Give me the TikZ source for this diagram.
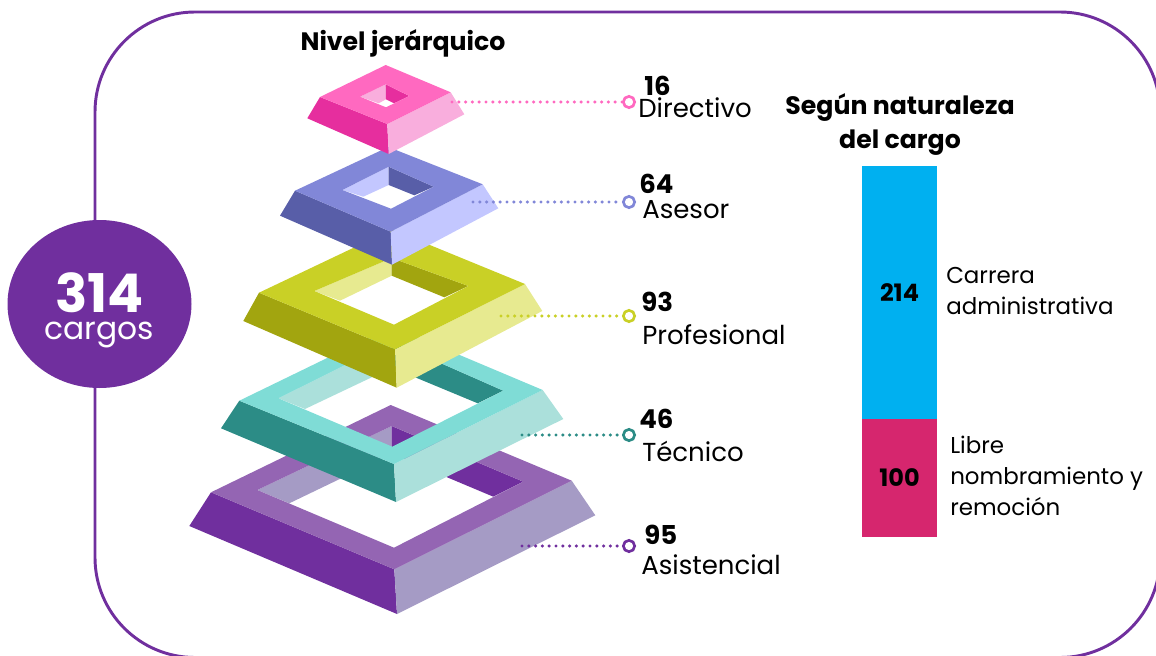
\documentclass[tikz,border=0pt]{standalone}
\usepackage{fontspec}
\setmainfont{Poppins}
\usetikzlibrary{shapes.geometric}
\definecolor{moradoA}{HTML}{702F9E}
\definecolor{moradoB}{HTML}{9465B3}
\definecolor{moradoC}{HTML}{A59BC5}
\definecolor{tealA}{HTML}{2C8C86}
\definecolor{tealB}{HTML}{7FDCD6}
\definecolor{tealC}{HTML}{ABE0DB}
\definecolor{verdeA}{HTML}{A2A50F}
\definecolor{verdeB}{HTML}{C9D026}
\definecolor{verdeC}{HTML}{E7EA90}
\definecolor{azulA}{HTML}{585EA8}
\definecolor{azulB}{HTML}{8187D8}
\definecolor{azulC}{HTML}{C3C7FF}
\definecolor{rosaA}{HTML}{E62E9E}
\definecolor{rosaB}{HTML}{FF69C0}
\definecolor{rosaC}{HTML}{F9AEDD}
\definecolor{barraAzul}{HTML}{00B0F0}
\definecolor{barraRoja}{HTML}{D6266E}
\tikzset{
  numero/.style={anchor=base west,font=\fontsize{19.5}{20}\selectfont\bfseries,inner sep=0pt},
  etiqueta/.style={anchor=base west,font=\fontsize{19.5}{20}\selectfont,inner sep=0pt},
  titulo/.style={align=center,font=\fontsize{18.9}{25.5}\selectfont\bfseries,inner sep=0pt},
  punto/.style={circle,draw=#1,fill=white,line width=2pt,minimum size=8.5pt,inner sep=0pt},
  enlace/.style={draw=#1,line width=2.6pt,line cap=round,dash pattern=on 0pt off 5.1pt},
  barra/.style={fill=#1,minimum width=56.25pt,inner sep=0pt,font=\fontsize{18}{18}\selectfont\bfseries},
  nota/.style={anchor=west,align=left,font=\fontsize{17.2}{23.5}\selectfont,inner sep=0pt}
}
\begin{document}
\begin{tikzpicture}[x=0.75pt,y=-0.75pt]
\clip (0,0) rectangle (1156,656);
\draw[moradoA,line width=2.2pt,rounded corners=75pt] (95,12) rectangle (1160,657.5);
\node (total) [ellipse,fill=moradoA,minimum width=138pt,minimum height=126pt,inner sep=0pt] at (99.5,304) {};
\node (totalTxt) [text=white,align=center,inner sep=0pt] at (99.5,310.5) {{\fontsize{40}{40}\selectfont\bfseries 314}\\[5.75pt]{\fontsize{23.5}{21}\selectfont cargos}};
\fill[moradoA] (211,492.3)--(394.3,569.3)--(397,614)--(189.3,526)--cycle;
\fill[moradoC] (571.7,480.7)--(394.3,569.3)--(397,614)--(595.3,515.3)--cycle;
\fill[moradoC] (257.3,490)--(391.7,426)--(391.7,454)--(289.3,503.3)--cycle;
\fill[moradoA] (391.7,426)--(523.3,481.7)--(493.3,496.7)--(391.7,454)--cycle;
\fill[moradoB,even odd rule] (390.7,405)--(571.7,480.7)--(394.3,569.3)--(211,492.3)--cycle (391.7,426)--(523.3,481.7)--(394,547.7)--(257.3,490)--cycle;
\fill[tealA] (239.3,400.7)--(394,464)--(396,502)--(221,428.3)--cycle;
\fill[tealC] (542.7,390)--(394,464)--(396,502)--(563.3,419)--cycle;
\fill[tealC] (278.3,398.3)--(392,341.7)--(392,367.7)--(305,409)--cycle;
\fill[tealA] (392,341.7)--(503.3,390.7)--(477.7,403.3)--(392,367.7)--cycle;
\fill[tealB,even odd rule] (392,326.5)--(542.7,390)--(394,464)--(239.3,400.7)--cycle (392,341.7)--(503.3,390.7)--(392.3,446.7)--(278.3,398.3)--cycle;
\fill[verdeA] (259,292.7)--(395,349.3)--(396.7,387.7)--(243.3,321)--cycle;
\fill[verdeC] (525,284)--(395,349.3)--(396.7,387.7)--(542.3,311)--cycle;
\fill[verdeC] (314.3,291)--(391.7,258)--(391.7,275.7)--(340,300.7)--cycle;
\fill[verdeA] (391.7,258)--(468.3,286)--(444.3,297.3)--(391.7,275.7)--cycle;
\fill[verdeB,even odd rule] (392,229.5)--(525,284)--(395,349.3)--(259,292.7)--cycle (391.7,258)--(468.3,286)--(394,324.7)--(314.3,291)--cycle;
\fill[azulA] (295,190.7)--(390.7,231.7)--(392,264.7)--(280,215.7)--cycle;
\fill[azulC] (482.7,184.3)--(390.7,231.7)--(392,264.7)--(498.3,208.3)--cycle;
\fill[azulC] (342.3,190)--(388.7,166.7)--(388.7,185)--(363.3,196.7)--cycle;
\fill[azulA] (388.7,166.7)--(433.7,186.7)--(414.3,195.3)--(388.7,185)--cycle;
\fill[azulB,even odd rule] (388.3,147)--(482.7,184.3)--(390.7,231.7)--(295,190.7)--cycle (388.7,166.7)--(433.7,186.7)--(391,208.7)--(342.3,190)--cycle;
\fill[rosaA] (320,97)--(387.3,124)--(388.7,154)--(307.3,118.3)--cycle;
\fill[rosaC] (450.7,92.3)--(387.3,124)--(388.7,154)--(464.3,114.3)--cycle;
\fill[rosaC] (360,96.7)--(385.7,84.3)--(386,99.3)--(378.7,103.3)--cycle;
\fill[rosaA] (385.7,84.3)--(409.3,96)--(394,103.3)--(386,99.3)--cycle;
\fill[rosaB,even odd rule] (385.7,65)--(450.7,92.3)--(387.3,124)--(320,97)--cycle (385.7,84.3)--(409.3,96)--(386,107.3)--(360,96.7)--cycle;
\coordinate (iniDirectivo) at (452,102);
\coordinate (iniAsesor) at (473,202);
\coordinate (iniProfesional) at (501,316);
\coordinate (iniTecnico) at (522,435);
\coordinate (iniAsistencial) at (522,546);
\node (ptoDirectivo) [punto=rosaB] at (629,102) {};
\node (ptoAsesor) [punto=azulB] at (629,202) {};
\node (ptoProfesional) [punto=verdeB] at (629,316) {};
\node (ptoTecnico) [punto=tealA] at (629,435) {};
\node (ptoAsistencial) [punto=moradoA] at (629,546) {};
\draw[enlace=rosaB] (iniDirectivo)--(ptoDirectivo);
\draw[enlace=azulB] (iniAsesor)--(ptoAsesor);
\draw[enlace=verdeB] (iniProfesional)--(ptoProfesional);
\draw[enlace=tealA] (iniTecnico)--(ptoTecnico);
\draw[enlace=moradoA] (iniAsistencial)--(ptoAsistencial);
\node (numDirectivo) [numero] at (644,96) {16};
\node (txtDirectivo) [etiqueta] at (638,117.7) {Directivo};
\node (numAsesor) [numero] at (639,194) {64};
\node (txtAsesor) [etiqueta] at (642,218) {Asesor};
\node (numProfesional) [numero] at (641,311.5) {93};
\node (txtProfesional) [etiqueta] at (642,344) {Profesional};
\node (numTecnico) [numero] at (639,428.5) {46};
\node (txtTecnico) [etiqueta] at (642,461) {Técnico};
\node (numAsistencial) [numero] at (644,544.5) {95};
\node (txtAsistencial) [etiqueta] at (641,574) {Asistencial};
\node (tituloNivel) [titulo] at (403,43) {Nivel jerárquico};
\node (tituloCargo) [titulo] at (900,124.5) {Según naturaleza\\del cargo};
\node (barCarrera) [barra=barraAzul,minimum height=189.75pt] at (899.5,292.5) {214};
\node (barLibre) [barra=barraRoja,minimum height=88.5pt] at (899.5,478) {100};
\node (notaCarrera) [nota] at (946,291) {Carrera\\administrativa};
\node (notaLibre) [nota] at (950,476) {Libre\\nombramiento y\\remoción};
\end{tikzpicture}
\end{document}
